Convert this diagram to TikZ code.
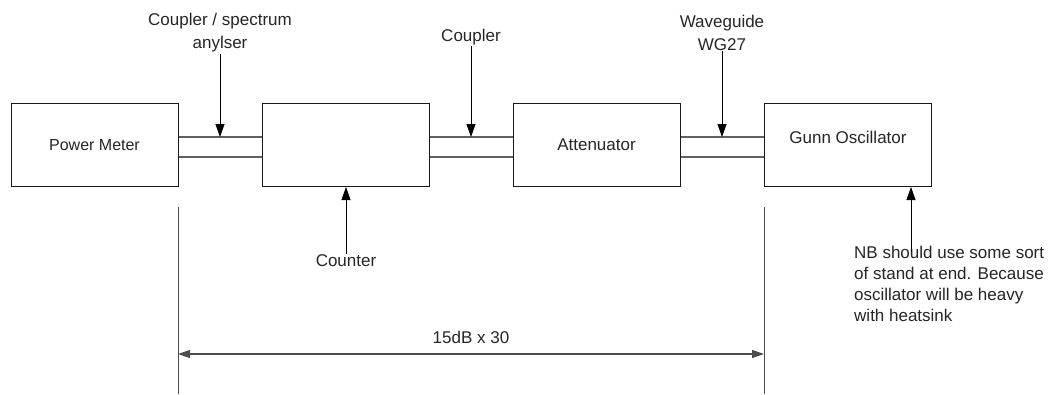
\documentclass[tikz,border=0pt]{standalone}
\usepackage{fontspec}
\setmainfont{Liberation Sans}
\usetikzlibrary{arrows.meta}
\begin{document}
\begin{tikzpicture}[x=1pt,y=-1pt,
  box/.style={draw=black!90,line width=1pt,minimum width=167pt,minimum height=83pt,inner sep=0pt,text=black!85},
  lbl/.style={inner sep=1pt,text=black!85,font=\fontsize{17}{23}\selectfont},
  wg/.style={draw=black!62,line width=1.4pt},
  arr/.style={draw=black,line width=0.8pt,-{Triangle[length=13pt,width=9pt]}},
  dim/.style={draw=black!70,line width=1pt},
  dimarr/.style={draw=black!70,line width=1.2pt,{Triangle[length=12pt,width=8pt]}-{Triangle[length=12pt,width=8pt]}}
]
\useasboundingbox (0,0) rectangle (1053,394);
\fill[white] (0,0) rectangle (1053,394);

% boxes
\node[box,font=\fontsize{16}{23}\selectfont] (pm) at (94.5,145) {Power Meter};
\node[box] (b2) at (346,145) {};
\node[box,font=\fontsize{17}{23}\selectfont] (att) at (596.5,145) {Attenuator};
\node[box] (gunn) at (848,145) {};
\node[lbl] (gunnlbl) at (848,137) {Gunn Oscillator};

% waveguide coordinates
\coordinate (wg1t) at (220,137);
\coordinate (wg1b) at (220,157);
\coordinate (wg2t) at (471,137);
\coordinate (wg2b) at (471,157);
\coordinate (wg3t) at (722,137);
\coordinate (wg3b) at (722,157);

\draw[wg] (pm.east |- wg1t) -- (b2.west |- wg1t);
\draw[wg] (pm.east |- wg1b) -- (b2.west |- wg1b);
\draw[wg] (b2.east |- wg2t) -- (att.west |- wg2t);
\draw[wg] (b2.east |- wg2b) -- (att.west |- wg2b);
\draw[wg] (att.east |- wg3t) -- (gunn.west |- wg3t);
\draw[wg] (att.east |- wg3b) -- (gunn.west |- wg3b);

% top labels
\node[lbl,align=center] (l1) at (220,33) {Coupler / spectrum\\anylser};
\node[lbl] (l2) at (471,37) {Coupler};
\node[lbl,align=center] (l3) at (722,32.5) {Waveguide\\WG27};
\draw[arr] (l1.south) -- (wg1t);
\draw[arr] (l2.south) -- (wg2t);
\draw[arr] (l3.south) -- (wg3t);

% bottom labels
\node[lbl] (ctr) at (346,261) {Counter};
\draw[arr] (ctr.north) -- (b2.south);

\node[lbl,anchor=north west,align=left,font=\fontsize{17}{21}\selectfont] (nb) at (853,245)
  {NB should use some sort\\of stand at end. Because\\oscillator will be heavy\\with heatsink};
\coordinate (nbtip) at (911,252);
\draw[arr] (nbtip) -- (gunn.south -| nbtip);

% dimension
\coordinate (d1a) at (178,207);
\coordinate (d1b) at (178,394);
\coordinate (d2a) at (764,207);
\coordinate (d2b) at (764,394);
\draw[dim] (d1a) -- (d1b);
\draw[dim] (d2a) -- (d2b);
\coordinate (da) at (178,354);
\coordinate (db) at (764,354);
\draw[dimarr] (da) -- (db);
\node[lbl] (dimlbl) at (471,337) {15dB x 30};
\end{tikzpicture}
\end{document}
